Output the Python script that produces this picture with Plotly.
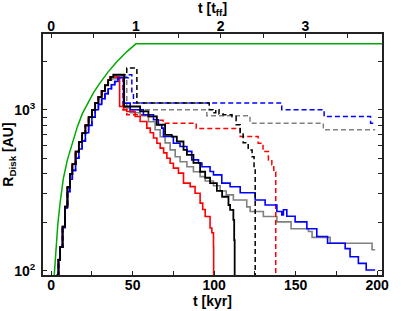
import plotly.graph_objects as go

TFF_KYR = 52.0  # 1 free-fall time in kyr (top axis)

# shared rise (red / black / gray runs)
rise_t = [3.5, 4.5, 5.5, 7, 8.5, 10, 11.5, 13, 15, 17, 19, 21, 23, 25, 27, 29, 31, 33, 35]
rise_R = [94, 117, 140, 188, 250, 330, 400, 460, 550, 630, 715, 800, 900, 1000, 1100, 1200, 1310, 1420, 1530]
# rise of the blue runs
rise_blue_t = [3.5, 4.5, 5.5, 7, 8.5, 10, 11.5, 13, 15, 17, 19, 21, 23, 25, 27, 29, 31, 33, 35, 37, 39, 41]
rise_blue_R = [94, 117, 140, 185, 245, 310, 370, 420, 500, 570, 640, 720, 800, 900, 1000, 1080, 1170, 1260, 1350, 1430, 1500, 1580]

red_solid_t = [36, 42, 44.4, 46.4, 51.5, 54.6, 58.7, 60.8, 62.8, 64.9, 66.9, 69, 71, 73, 75, 78.1, 81.2, 85.3, 88.3, 91.4, 93, 94.5, 97.5, 98.6, 99.6, 99.7]
red_solid_R = [1600, 1048, 1000, 976, 909, 846, 769, 720, 667, 620, 578, 540, 500, 465, 434, 404, 350, 333, 303, 263, 240, 217, 184, 172, 141, 80]

black_solid_t = [36.5, 38.2, 44.8, 54.6, 59.7, 64.8, 69.9, 74, 77.1, 81.2, 83.3, 87.3, 91.4, 94.5, 97.5, 101.7, 104.9, 108.8, 109.8, 111.8, 112.3, 112.6]
black_solid_R = [1600, 1651, 1048, 976, 909, 807, 699, 680, 635, 563, 525, 468, 412, 378, 350, 313, 288, 256, 239, 207, 155, 80]

gray_solid_t = [37, 41.3, 44.6, 48.5, 54.6, 59.7, 63.8, 66.9, 69.9, 73, 76.1, 79.1, 83.3, 87.3, 91.4, 94.5, 99.6, 103.7, 107.4, 111.8, 120, 122.1, 130.2, 138.5, 147.2, 157.9, 160.1, 171.2, 196.9, 198.8]
gray_solid_R = [1560, 1611, 1030, 958, 918, 842, 751, 680, 623, 563, 510, 475, 442, 412, 384, 361, 337, 313, 296, 275, 249, 233, 217, 201, 182, 175, 161, 148, 135, 135]

blue_solid_t = [44.4, 48.5, 56.6, 62.8, 65.8, 67.9, 68.9, 75, 79.1, 83.3, 86.3, 90.4, 92.5, 97.5, 99.6, 104.7, 109.8, 116, 125.2, 131.3, 138.5, 141.5, 142.5, 144.6, 149.7, 156.9, 163, 169.6, 180.4, 183.4, 188.5, 193.3, 198.8]
blue_solid_R = [1100, 1000, 931, 867, 807, 769, 682, 620, 591, 551, 488, 466, 442, 413, 394, 350, 332, 305, 275, 256, 233, 222, 239, 218, 201, 182, 163, 148, 137, 122, 111, 101, 101]

black_dash_t = [36.5, 38.2, 45.4, 46.4, 52.6, 97, 99.4, 101, 103, 105.5, 111, 113.5, 116, 117.8, 120.9, 123.3, 124.5, 125.2]
black_dash_R = [1600, 1651, 1690, 1817, 1100, 1000, 960, 1000, 940, 931, 905, 807, 719, 623, 563, 510, 423, 80]

red_dash_t = [36, 44, 46.4, 58.7, 64.8, 68.7, 89, 116, 127, 130, 133.3, 135.4, 136.6, 137.8]
red_dash_R = [1600, 1000, 931, 909, 860, 826, 765, 682, 620, 550, 488, 455, 410, 80]

blue_dash_t = [42.3, 47.4, 49.5, 50.5, 141.5, 167.5, 196, 198.8]
blue_dash_R = [1580, 1651, 1270, 1100, 1000, 909, 826, 826]

gray_dash_t = [37, 41.3, 46.4, 95.5, 122, 167, 198.8]
gray_dash_R = [1560, 1611, 1000, 918, 826, 751, 751]

green_t = [1.9, 3, 4.1, 5.5, 7.5, 10, 12.7, 16, 19.2, 22.9, 26, 30, 35, 40.3, 46.5, 52, 203]
green_R = [94, 145, 195, 265, 375, 490, 615, 780, 950, 1130, 1280, 1470, 1720, 1990, 2300, 2570, 2570]

x_ticks = [0, 50, 100, 150, 200]
top_ticks = [0, 1, 2, 3]
y_ticks = [100, 1000]
y_ticktext = ["10<sup>2</sup>", "10<sup>3</sup>"]
y_minor = [200, 300, 400, 500, 600, 700, 800, 900, 2000]

DASH = "5px,3px"
fig = go.Figure()

fig.add_trace(go.Scatter(x=green_t, y=green_R, mode="lines",
                         line=dict(color="#00aa00", width=1.5)))

def add(tt, rr, color, dash, width, blue=False):
    bt = rise_blue_t if blue else rise_t
    br = rise_blue_R if blue else rise_R
    fig.add_trace(go.Scatter(x=bt + tt, y=br + rr, mode="lines",
                             line=dict(color=color, width=width, dash=dash, shape="hv")))

add(gray_solid_t, gray_solid_R, "#808080", "solid", 1.6)
add(gray_dash_t, gray_dash_R, "#808080", DASH, 1.5)
add(red_solid_t, red_solid_R, "#ff0000", "solid", 1.6)
add(red_dash_t, red_dash_R, "#ff0000", DASH, 1.5)
add(blue_solid_t, blue_solid_R, "#0000ff", "solid", 1.6, blue=True)
add(blue_dash_t, blue_dash_R, "#0000ff", DASH, 1.5, blue=True)
add(black_solid_t, black_solid_R, "#000000", "solid", 1.8)
add(black_dash_t, black_dash_R, "#000000", DASH, 1.5)

# invisible trace to activate the top axis
fig.add_trace(go.Scatter(x=[0], y=[1000], xaxis="x2", mode="markers",
                         marker=dict(opacity=0), hoverinfo="skip"))

axcol = "#222222"
FS = 14
fig.update_layout(
    width=407, height=311,
    margin=dict(l=43, r=25, t=34, b=36, autoexpand=False),
    paper_bgcolor="white", plot_bgcolor="white",
    showlegend=False,
    font=dict(family="Liberation Sans", size=FS, color="black", weight="bold"),
    xaxis=dict(range=[-5, 203], tickvals=x_ticks, ticks="inside", ticklen=4,
               tickwidth=1.3, tickcolor=axcol, showline=True, linecolor=axcol,
               linewidth=2, mirror=False, showgrid=False, zeroline=False, automargin=False,
               ticklabelstandoff=-4,
               minor=dict(dtick=25, tick0=0, ticks="inside", ticklen=4, tickcolor=axcol, tickwidth=1.3),
               title=dict(text="t [kyr]", standoff=0, font=dict(size=FS, weight="bold"))),
    xaxis2=dict(range=[-5 / TFF_KYR, 203 / TFF_KYR], overlaying="x", side="top",
                tickvals=top_ticks, ticks="inside", ticklen=4, tickwidth=1.3,
                tickcolor=axcol, showline=True, linecolor=axcol, linewidth=2,
                showgrid=False, zeroline=False, automargin=False,
                ticklabelstandoff=-5,
                minor=dict(dtick=0.5, tick0=0, ticks="inside", ticklen=4, tickcolor=axcol, tickwidth=1.3),
                title=dict(text="t [t<sub>ff</sub>]", standoff=2, font=dict(size=FS, weight="bold"))),
    yaxis=dict(type="log", range=[1.973, 3.471], tickvals=y_ticks, ticktext=y_ticktext,
               ticks="inside", ticklen=4, tickwidth=1.3, tickcolor=axcol,
               showline=True, linecolor=axcol, linewidth=2, mirror="ticks",
               showgrid=False, zeroline=False, automargin=False,
               ticklabelstandoff=3,
               minor=dict(tickvals=y_minor, ticks="inside", ticklen=4, tickcolor=axcol, tickwidth=1.3),
               title=dict(text="R<sub>Disk</sub> [AU]", standoff=4, font=dict(size=FS, weight="bold"))),
)

fig.write_html("out.html", config={"displayModeBar": False},
               post_script="document.body.style.margin='0';document.body.style.padding='0';")
